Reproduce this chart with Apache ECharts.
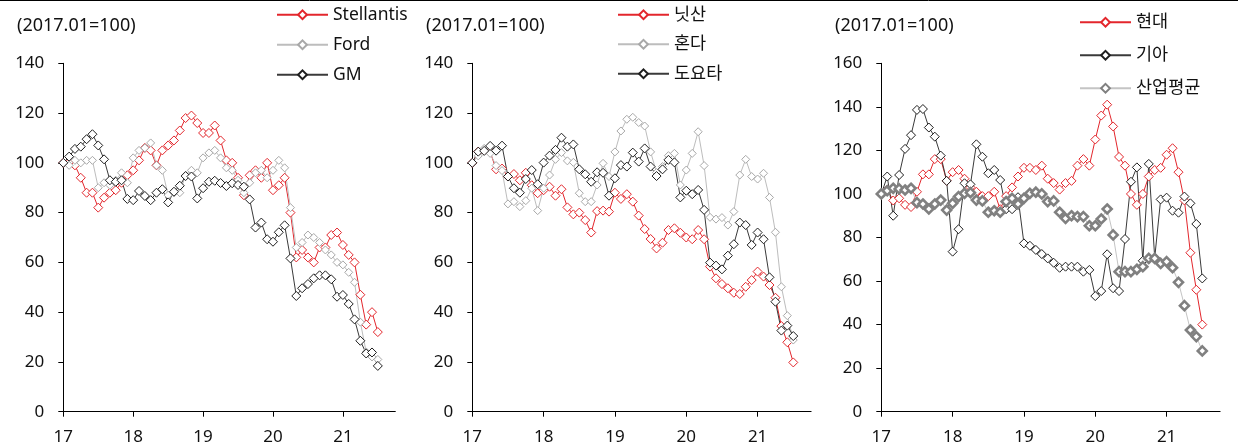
<!DOCTYPE html>
<html>
<head>
<meta charset="utf-8">
<script src="https://cdn.jsdelivr.net/npm/echarts@6/dist/echarts.min.js"></script>
<style>
html,body{margin:0;padding:0;background:#fff;}
#chart{width:1238px;height:448px;}
</style>
</head>
<body>
<div id="chart"></div>
<script>
// Monthly categories 2017.01 - 2021.10
const months = [
'2017.01','2017.02','2017.03','2017.04','2017.05','2017.06','2017.07','2017.08','2017.09','2017.10','2017.11','2017.12',
'2018.01','2018.02','2018.03','2018.04','2018.05','2018.06','2018.07','2018.08','2018.09','2018.10','2018.11','2018.12',
'2019.01','2019.02','2019.03','2019.04','2019.05','2019.06','2019.07','2019.08','2019.09','2019.10','2019.11','2019.12',
'2020.01','2020.02','2020.03','2020.04','2020.05','2020.06','2020.07','2020.08','2020.09','2020.10','2020.11','2020.12',
'2021.01','2021.02','2021.03','2021.04','2021.05','2021.06','2021.07','2021.08','2021.09','2021.10'];
const xTickLabels = ['17','18','19','20','21'];
const baseNote = '(2017.01=100)';

// Panel 1: US makers
const stellantis = [100,100,99,94,88,88,82,86,88,89,92,95,97,101,106,105,99,105,107,109,113,118,119,116,112,112,115,109,101,100,94,87,95,97,94,100,89,91,94,80,62,65,62,60,66,66,71,72,67,63,60,47,35,40,32];
const ford = [100,99,101,100,101,101,90,92,91,93,96,92,102,105,106,108,99,97,87,88,88,95,97,96,102,104,105,102,98,97,93,88,92,96,97,94,97,101,98,82,66,68,71,70,68,65,63,60,59,56,52,36,24,22,21];
const gm = [100,102.5,105.6,106.5,109.5,111.5,107,101.4,93,92.4,93,85.5,85,88.7,86.7,85,88,89.4,84.1,88.4,90.8,94.7,94.5,85.7,89.8,92.4,92.8,91.9,90.7,91.8,91.1,90.4,85.3,74,76,69.3,68.3,72.1,74.9,61.6,46.5,49.6,51.3,53.6,54.8,54.8,53.2,46.2,46.9,43.3,37.1,28.5,23.4,23.8,18.4];

// Panel 2: Japanese makers
const nissan = [100,104.5,105,104.5,97.4,97.7,94.5,95.5,93,96,91,87.8,89,90.4,86.8,89.4,82.1,79.3,80,77,72,80.6,80.8,80.4,88,85.5,87.4,84.4,78.8,73.4,69.4,65.6,67.9,73,73.7,71.9,70,69.3,73,69.3,58.3,53.6,51.3,49.6,47.8,47.3,50.2,52.9,56.3,54.3,50.9,45.8,34.4,27.9,19.8];
const honda = [100,102.8,105.8,103.8,98.9,96.9,83.5,84.4,82.4,84.8,89.8,80.8,89.8,95.1,101.4,104.1,100.8,100.2,87.8,84.4,84.4,91.1,99.8,94.5,104.4,112.8,117.5,118.3,116.2,114.8,104.4,96.1,98.5,102.9,103.8,91.1,97.1,103.8,112.5,98.9,78.1,77.4,78,75,80.4,95.1,101.4,94.5,93.5,95.8,86.1,72.1,50.2,38.6,28.8];
const toyota = [100,104.5,104.8,106.8,104.9,106.9,94.5,89.8,88,93.5,97.1,91.4,100.1,102.9,105.2,110.1,106.5,107.4,97.4,95.4,92.4,96.2,96,86.8,93.8,99.1,98.5,104.1,100.5,105.8,98.5,94.7,97.4,101.2,100.2,86.1,88.8,87.4,89.1,81.1,59.9,58.7,57.2,62.7,67.3,76,75,67,72,69.3,54,44.2,32.6,34.6,30.4];

// Panel 3: Korean makers
const hyundai = [100,102,97,98,95,94,101,109,109,116,116,106,110,111,107,103,101,99,99,101,93,99,103,108,112,112,111,113,107,105,102,105,106,113,116,113,125,136,141,131,117,113,100,95,100,108,111,112,118,121,110,97,73,56,40];
const kia = [100,108,90,108.7,120.7,127,138.6,139,130.5,126.3,117.6,106,73.5,83.8,104.9,104.4,122.8,117.1,109.5,111,106.4,93,93,98.5,77.3,76.2,74.3,72.4,70.4,68.4,66.1,66.6,66.6,66.6,64.3,65.1,53.1,55.4,72.3,56.7,55.4,79.3,105.6,112.2,69.3,113.8,70.7,97.5,98.3,92.3,91.4,98.8,95.7,86.2,61.2];
const industryAvg = [100,101.5,102.6,102.3,101.8,102.6,96,95.4,93.1,95.4,97.2,92.6,95.7,98.8,100.3,100.6,97.2,96.8,91.6,92.3,91.6,96.5,98,95.4,98,100.3,100.8,100,96.5,96.8,91.6,88.8,90,89.6,89.6,85.4,85.4,88.5,93.1,81.2,64.3,64.3,64.3,65.4,66.6,70.4,70.4,68.1,68.9,66.1,59.4,48.7,37.5,34.5,27.9];

const FONT = "'Noto Sans', 'Noto Sans CJK KR', sans-serif";
const TXT = '#111';
const RED = '#e3262c';

const panels = [
  {left:63.3, width:332, yMax:140, titleLeft:17, legLeft:276, legTop:6, legGap:12.5,
   series:[
     {name:'Stellantis', data:stellantis, line:RED, mark:RED, bw:1, size:9},
     {name:'Ford', data:ford, line:'#bdbdbd', mark:'#a8a8a8', bw:1, size:8},
     {name:'GM', data:gm, line:'#3a3a3a', mark:'#1e1e1e', bw:1, size:9}
   ]},
  {left:472.3, width:338.8, yMax:140, titleLeft:426, legLeft:617, legTop:6, legGap:12,
   series:[
     {name:'닛산', data:nissan, line:RED, mark:RED, bw:1, size:9},
     {name:'혼다', data:honda, line:'#bdbdbd', mark:'#a8a8a8', bw:1, size:8},
     {name:'도요타', data:toyota, line:'#3a3a3a', mark:'#1e1e1e', bw:1, size:9}
   ]},
  {left:881.3, width:338.8, yMax:160, titleLeft:835, legLeft:1079, legTop:13.5, legGap:15.5,
   series:[
     {name:'현대', data:hyundai, line:RED, mark:RED, bw:1, size:9},
     {name:'기아', data:kia, line:'#3a3a3a', mark:'#1e1e1e', bw:1, size:9},
     {name:'산업평균', data:industryAvg, line:'#c4c4c4', mark:'#808080', bw:2.6, size:9}
   ]}
];

const tickEvery = (idx) => idx % 12 === 0;

const option = {
  animation:false,
  backgroundColor:'#fff',
  textStyle:{fontFamily:FONT},
  title:[], legend:[], grid:[], xAxis:[], yAxis:[], series:[],
  graphic:[{type:'line', shape:{x1:0,y1:0.5,x2:1238,y2:0.5}, style:{stroke:'#000', lineWidth:1}, silent:true}]
};

panels.forEach((p, k) => {
  option.title.push({
    text: baseNote, left:p.titleLeft, top:17, padding:0,
    textStyle:{fontSize:18, fontWeight:'normal', color:TXT, fontFamily:FONT}
  });
  option.grid.push({left:p.left, top:63.3, width:p.width, height:348.4, containLabel:false});
  option.xAxis.push({
    type:'category', gridIndex:k, data:months, boundaryGap:false,
    axisLine:{show:true, lineStyle:{color:'#000', width:1}},
    axisTick:{show:true, length:5, interval:tickEvery, lineStyle:{color:'#000'}},
    axisLabel:{interval:tickEvery, margin:17, fontSize:17, color:TXT, fontFamily:FONT,
      formatter:(v, idx) => xTickLabels[Math.floor(idx/12)]},
    splitLine:{show:false}
  });
  option.yAxis.push({
    type:'value', gridIndex:k, min:0, max:p.yMax, interval:20,
    axisLine:{show:true, lineStyle:{color:'#000', width:1}},
    axisTick:{show:true, length:5, lineStyle:{color:'#000'}},
    axisLabel:{margin:19, fontSize:17, color:TXT, fontFamily:FONT},
    splitLine:{show:false}
  });
  option.legend.push({
    orient:'vertical', left:p.legLeft, top:p.legTop, padding:0,
    itemWidth:51, itemHeight:11, itemGap:p.legGap,
    textStyle:{fontSize:17.5, color:TXT, fontFamily:FONT, lineHeight:17.5},
    data:p.series.map(s => s.name)
  });
  p.series.forEach(s => {
    option.series.push({
      name:s.name, type:'line', xAxisIndex:k, yAxisIndex:k, data:s.data,
      symbol:'diamond', symbolSize:s.size, showAllSymbol:true,
      lineStyle:{color:s.line, width:1},
      itemStyle:{color:'#fff', borderColor:s.mark, borderWidth:s.bw},
      emphasis:{disabled:true}
    });
  });
});

const chart = echarts.init(document.getElementById('chart'), null, {renderer:'canvas'});
chart.setOption(option);
</script>
</body>
</html>
